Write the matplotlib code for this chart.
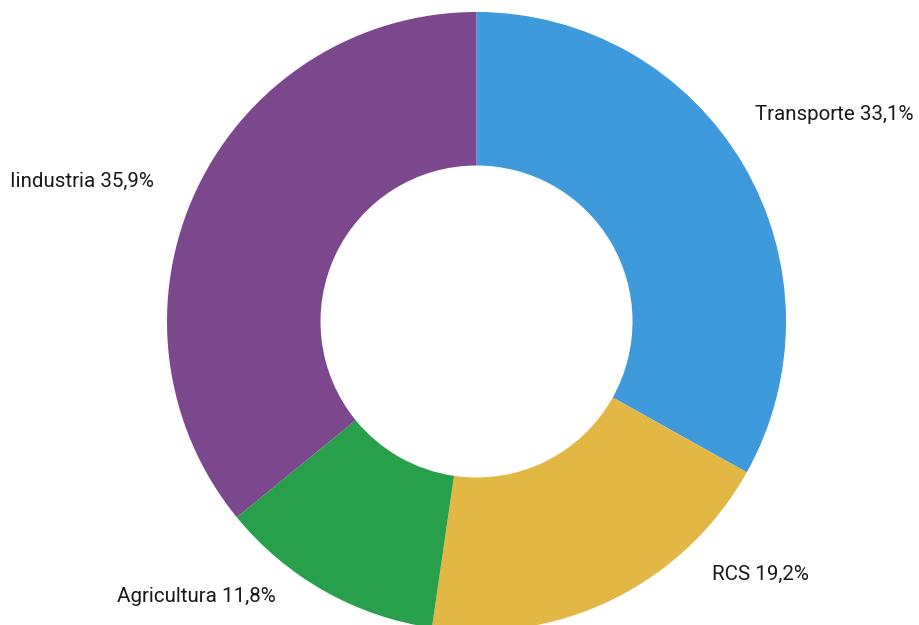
import matplotlib.pyplot as plt

labels = ['Transporte', 'RCS', 'Agricultura', 'Iindustria']
values = [33.1, 19.2, 11.8, 35.9]
colors = ['#3E9ADB', '#E3B743', '#289F4B', '#7C488D']

# label anchor points (pixels, y up)
label_pos = [(755, 510), (712, 51), (117, 28), (10, 444)]

fig = plt.figure(figsize=(9.19, 6.25), dpi=100)
ax = fig.add_axes([0, 0, 1, 1])

outer = 309.5
inner = 156
ax.pie(values, colors=colors, startangle=90, counterclock=False,
       center=(476.5, 303.5), radius=outer,
       wedgeprops=dict(width=outer - inner, linewidth=0),
       frame=True)
ax.set_xlim(0, 919)
ax.set_ylim(0, 625)
ax.set_aspect('equal')
ax.axis('off')

for name, v, (x, y) in zip(labels, values, label_pos):
    txt = f'{name} {v:.1f}%'.replace('.', ',')
    ax.text(x, y, txt, ha='left', va='center', fontsize=14.8,
            family='Roboto', color='#1a1a1a')

fig.savefig('out.png', dpi=100)
